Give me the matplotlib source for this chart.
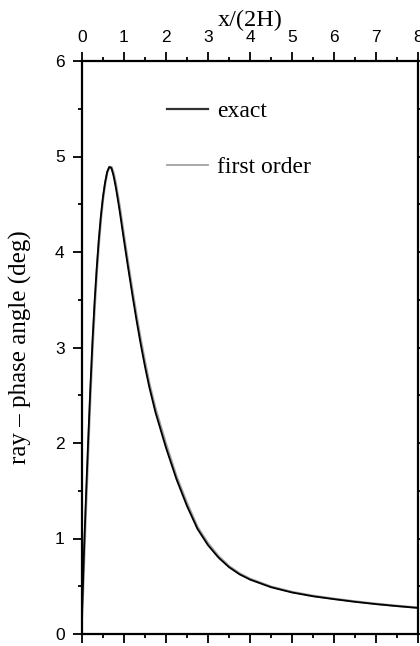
import matplotlib
matplotlib.use("Agg")
import matplotlib.pyplot as plt
from matplotlib.ticker import MultipleLocator

# ---- data ----
x_vals = [0.0, 0.025, 0.05, 0.1, 0.15, 0.2, 0.25, 0.3, 0.35, 0.4, 0.45, 0.5,
          0.55, 0.6, 0.65, 0.7, 0.75, 0.8, 0.85, 0.9, 0.95, 1.0, 1.1, 1.2,
          1.3, 1.4, 1.5, 1.6, 1.75, 2.0, 2.25, 2.5, 2.75, 3.0, 3.25, 3.5,
          3.75, 4.0, 4.5, 5.0, 5.5, 6.0, 6.5, 7.0, 7.5, 8.0]
y_exact = [0.22, 0.55, 0.90, 1.50, 2.06, 2.59, 3.07, 3.48, 3.83, 4.13, 4.38, 4.58,
           4.73, 4.84, 4.89, 4.88, 4.80, 4.69, 4.56, 4.42, 4.27, 4.12, 3.83, 3.55,
           3.28, 3.03, 2.80, 2.59, 2.32, 1.95, 1.62, 1.34, 1.10, 0.93, 0.80, 0.70,
           0.625, 0.57, 0.49, 0.435, 0.395, 0.365, 0.337, 0.313, 0.292, 0.273]
y_first = [0.18, 0.45, 0.78, 1.38, 1.95, 2.49, 2.98, 3.40, 3.77, 4.08, 4.34, 4.55,
           4.71, 4.83, 4.89, 4.89, 4.83, 4.73, 4.60, 4.47, 4.32, 4.17, 3.88, 3.60,
           3.33, 3.08, 2.85, 2.63, 2.36, 1.99, 1.65, 1.37, 1.12, 0.95, 0.815, 0.71,
           0.635, 0.578, 0.496, 0.44, 0.40, 0.369, 0.341, 0.316, 0.295, 0.276]
series_labels = ["exact", "first order"]
x_label = "x/(2H)"
y_label = "ray \u2013 phase angle (deg)"

serif = "Liberation Serif"
sans = "Liberation Sans"

fig = plt.figure(figsize=(4.2, 6.46), dpi=100)
ax = fig.add_axes([82/420, 12/646, 336/420, 573/646])

l2, = ax.plot(x_vals, y_first, color="#a0a0a0", lw=1.7, zorder=2,
              solid_joinstyle="round")
l1, = ax.plot(x_vals, y_exact, color="black", lw=1.3, zorder=3,
              solid_joinstyle="round")

ax.set_xlim(0, 8)
ax.set_ylim(0, 6)

ax.xaxis.set_major_locator(MultipleLocator(1))
ax.xaxis.set_minor_locator(MultipleLocator(0.5))
ax.yaxis.set_major_locator(MultipleLocator(1))
ax.yaxis.set_minor_locator(MultipleLocator(0.5))

ax.tick_params(axis="x", which="both", direction="out", top=True, bottom=True,
               labeltop=True, labelbottom=False, width=1.3)
ax.tick_params(axis="y", which="both", direction="out", left=True, right=True,
               labelleft=True, labelright=False, width=1.3)
ax.tick_params(which="major", length=6.5)
ax.tick_params(which="minor", length=3.2)
ax.tick_params(axis="x", which="major", pad=5)
ax.tick_params(axis="y", which="major", pad=6)

for lab in ax.get_xticklabels() + ax.get_yticklabels():
    lab.set_fontfamily(sans)
    lab.set_fontsize(12.5)

for sp in ax.spines.values():
    sp.set_linewidth(1.6)

ax.xaxis.set_label_position("top")
ax.set_xlabel(x_label, fontfamily=serif, fontsize=17.5, labelpad=3)
ax.set_ylabel(y_label, fontfamily=serif, fontsize=18)
ax.yaxis.set_label_coords(-0.15, 0.5)

leg = ax.legend([l1, l2], series_labels, loc="upper left",
                bbox_to_anchor=(0.225, 0.947), frameon=False,
                prop={"family": serif, "size": 17},
                handlelength=1.75, handletextpad=0.35, labelspacing=1.45,
                borderaxespad=0)
leg.get_lines()[0].set_color("#333333")
leg.get_lines()[0].set_linewidth(1.6)
leg.get_lines()[1].set_linewidth(1.3)

fig.savefig("out.png", dpi=100)
